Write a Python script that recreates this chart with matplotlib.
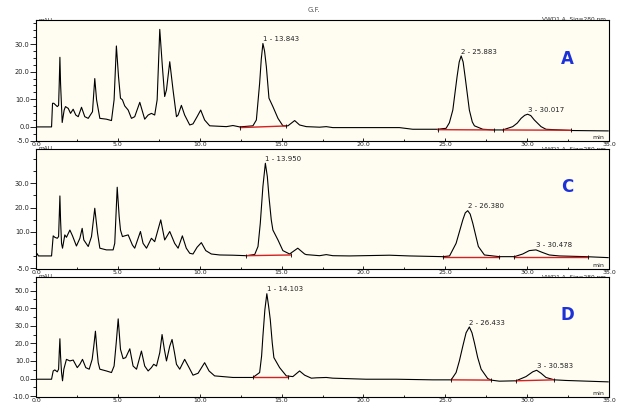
import matplotlib.pyplot as plt
from matplotlib.ticker import MultipleLocator

# chromatogram traces (time in min, signal in mAU)
a_time = [0.0, 0.95, 1.01, 1.09, 1.30, 1.38, 1.42, 1.46, 1.50, 1.60, 1.72, 1.80, 1.97, 2.11, 2.27,
          2.43, 2.58, 2.78, 2.98, 3.19, 3.45, 3.59, 3.70, 3.90, 4.30, 4.61, 4.77, 4.91, 5.04, 5.16,
          5.28, 5.42, 5.63, 5.83, 6.03, 6.34, 6.64, 6.85, 7.05, 7.25, 7.40, 7.56, 7.72, 7.86, 7.97,
          8.17, 8.37, 8.58, 8.68, 8.88, 9.08, 9.39, 9.59, 9.84, 10.06, 10.30, 10.61, 11.63, 12.03,
          12.44, 13.25, 13.46, 13.66, 13.76, 13.86, 13.96, 14.07, 14.23, 14.47, 14.78, 15.08, 15.39,
          15.80, 16.10, 16.51, 17.32, 17.73, 18.13, 20.17, 22.20, 23.01, 24.54, 25.05, 25.25, 25.46,
          25.72, 25.85, 25.97, 26.09, 26.21, 26.47, 26.65, 26.78, 27.29, 28.00, 28.51, 29.12, 29.40,
          29.63, 29.85, 30.03, 30.22, 30.44, 30.85, 31.15, 32.68, 34.95]
a_signal = [0.0, 0.0, 8.55, 8.55, 7.35, 7.8, 15.8, 25.2, 15.8, 1.6, 6.1, 7.35, 6.7, 4.9, 6.4,
            4.3, 3.7, 7.1, 3.7, 3.1, 5.5, 17.5, 9.8, 3.1, 2.8, 2.3, 9.8, 29.3, 18.2, 10.4,
            9.8, 7.6, 6.1, 3.1, 3.7, 8.9, 2.8, 4.3, 4.9, 4.3, 9.8, 35.3, 21.8, 11.0, 13.4,
            23.6, 13.4, 3.7, 4.3, 7.8, 4.3, 0.7, 1.1, 3.7, 6.1, 2.5, 0.4, 0.1, 0.5,
            0.0, 0.4, 2.5, 15.8, 24.5, 30.2, 27.5, 21.8, 10.4, 7.35, 3.1, 0.4, 0.4,
            2.3, 0.7, 0.1, -0.1, 0.1, -0.25, -0.25, -0.25, -0.85, -0.85, -0.5, 1.5, 6.1,
            18.2, 23.5, 25.7, 23.5, 18.2, 6.1, 1.8, 0.4, -0.85, -1.1, -1.1, 0.1, 1.4,
            3.1, 4.2, 4.6, 4.1, 2.5, 0.1, -0.85, -1.3, -1.45]

c_time = [0.0, 0.06, 0.15, 0.95, 1.05, 1.15, 1.30, 1.38, 1.42, 1.46, 1.50, 1.56, 1.62, 1.76, 1.86,
          2.07, 2.23, 2.47, 2.68, 2.82, 2.92, 3.19, 3.39, 3.59, 3.76, 3.90, 4.30, 4.71, 4.81, 4.96,
          5.08, 5.16, 5.28, 5.42, 5.63, 5.89, 6.03, 6.38, 6.54, 6.75, 7.05, 7.25, 7.62, 7.86, 8.17,
          8.47, 8.68, 8.94, 9.18, 9.39, 9.59, 9.84, 10.10, 10.37, 10.71, 11.22, 12.03, 12.85, 13.36,
          13.56, 13.70, 13.86, 14.01, 14.13, 14.23, 14.37, 14.47, 14.78, 15.08, 15.49, 15.99, 16.41,
          16.51, 17.32, 17.73, 18.13, 19.15, 21.59, 22.81, 24.85, 25.26, 25.66, 26.07, 26.22, 26.37,
          26.52, 26.68, 27.02, 27.39, 28.30, 29.22, 29.73, 30.13, 30.54, 30.95, 31.35, 31.96, 33.59,
          34.95]
c_signal = [-0.3, 1.0, 0.0, 0.0, 8.3, 7.7, 7.3, 8.0, 16.3, 24.8, 14.9, 5.2, 3.2, 8.7, 7.7,
            10.7, 8.3, 4.1, 7.3, 11.4, 6.6, 3.9, 8.0, 19.7, 9.4, 3.2, 2.5, 2.5, 5.2, 28.4,
            16.3, 10.7, 8.0, 8.3, 8.7, 4.5, 3.2, 10.1, 5.2, 3.2, 7.3, 5.9, 14.9, 6.6, 10.1,
            5.2, 3.2, 8.3, 3.2, 1.1, 0.8, 3.6, 5.5, 2.2, 0.8, 0.4, 0.3, 0.1, 0.6,
            3.9, 13.5, 28.7, 38.3, 32.8, 24.5, 14.9, 10.7, 6.6, 2.2, 0.8, 3.2, 0.8,
            0.55, 0.1, 0.55, 0.1, 0.0, 0.3, 0.0, -0.3, 0.0, 5.2, 14.9, 17.8, 18.7,
            17.3, 13.5, 3.9, 0.4, -0.3, -0.3, 0.8, 2.2, 2.5, 1.4, 0.4, 0.0, -0.3,
            -0.7]

d_time = [0.0, 0.95, 1.05, 1.15, 1.30, 1.38, 1.42, 1.46, 1.50, 1.56, 1.62, 1.70, 1.86, 2.07, 2.27,
          2.52, 2.68, 2.84, 3.04, 3.25, 3.43, 3.53, 3.63, 3.72, 3.80, 3.90, 4.30, 4.61, 4.77, 4.90,
          5.02, 5.10, 5.16, 5.32, 5.48, 5.73, 5.93, 6.14, 6.44, 6.64, 6.85, 7.05, 7.19, 7.36, 7.56,
          7.70, 7.84, 7.97, 8.17, 8.31, 8.46, 8.58, 8.78, 9.08, 9.35, 9.59, 9.90, 10.30, 10.57,
          10.91, 12.03, 13.25, 13.66, 13.78, 13.86, 13.98, 14.10, 14.21, 14.31, 14.43, 14.53, 14.88,
          15.29, 15.69, 16.10, 16.41, 16.82, 17.12, 17.73, 18.13, 20.17, 22.00, 24.24, 25.36, 25.66,
          25.86, 26.07, 26.27, 26.47, 26.63, 26.78, 26.98, 27.19, 27.59, 27.80, 28.30, 29.32, 29.93,
          30.34, 30.58, 30.85, 31.15, 31.66, 32.37, 34.95]
d_signal = [-0.4, -0.4, 4.3, 4.9, 3.8, 5.3, 14.7, 22.6, 12.8, 3.4, -1.3, 5.3, 10.9, 10.0, 10.5,
            6.2, 8.1, 10.9, 6.2, 5.3, 10.9, 18.4, 26.9, 16.6, 9.0, 5.3, 4.3, 3.4, 7.1, 20.3,
            33.9, 24.1, 16.6, 11.3, 11.9, 16.9, 7.1, 5.3, 15.6, 7.1, 4.3, 6.2, 8.1, 7.1, 14.7,
            25.0, 16.6, 10.0, 18.4, 22.2, 14.7, 8.1, 5.3, 10.9, 6.2, 1.9, 3.0, 9.0, 4.3,
            1.5, 0.6, 0.6, 3.4, 12.8, 24.1, 39.1, 48.2, 41.0, 33.5, 20.3, 11.9, 6.2,
            1.5, 1.1, 4.3, 1.9, 0.2, 0.4, 0.6, 0.2, -0.4, -0.4, -0.75, -0.75, 3.4,
            10.0, 18.4, 26.0, 29.3, 26.0, 20.3, 11.9, 5.3, 0.0, -0.9, -1.5, -1.3, 1.1,
            3.8, 4.7, 3.0, 0.6, -0.75, -1.1, -1.9]

# integrated peaks: apex time, apex height, label
a_peaks = [(13.86, 30.2, "1 - 13.843"), (25.97, 25.7, "2 - 25.883"), (30.03, 4.6, "3 - 30.017")]
c_peaks = [(14.01, 38.3, "1 - 13.950"), (26.37, 18.7, "2 - 26.380"), (30.54, 2.5, "3 - 30.478")]
d_peaks = [(14.10, 48.2, "1 - 14.103"), (26.47, 29.3, "2 - 26.433"), (30.58, 4.7, "3 - 30.583")]

# red integration baselines: t0, v0, t1, v1
a_base = [(12.48, -0.25, 15.29, 0.35), (24.54, -1.0, 28.00, -1.1), (28.51, -1.1, 32.68, -1.2)]
c_base = [(12.85, 0.1, 15.55, 0.4), (24.85, -0.3, 28.30, -0.3), (29.22, -0.3, 33.70, -0.3)]
d_base = [(13.25, 0.6, 15.39, 0.6), (25.36, -0.75, 27.80, -0.9), (29.32, -1.3, 31.66, -0.75)]

y_ticks_a = [-5, 0, 10, 20, 30]
y_ticks_c = [-5, 10, 20, 30]
y_ticks_d = [-10, 0, 10, 20, 30, 40, 50]
x_ticks = [0, 5, 10, 15, 20, 25, 30, 35]

W, H = 626, 407
fig = plt.figure(figsize=(W / 100, H / 100), dpi=100)
fig.text(314 / W, 1 - 10 / H, "G.F.", ha="center", va="center", fontsize=5, color="#555555")

panels = [
    ("A", a_time, a_signal, a_peaks, a_base, y_ticks_a, (-5.1, 38.7), 2.5, 20, 141),
    ("C", c_time, c_signal, c_peaks, c_base, y_ticks_c, (-5.4, 44.2), 5, 149, 269),
    ("D", d_time, d_signal, d_peaks, d_base, y_ticks_d, (-10.5, 57.7), 5, 277, 397),
]

for name, t, v, peaks, base, yt, ylim, ymin, top, bot in panels:
    ax = fig.add_axes([36 / W, 1 - bot / H, (609 - 36) / W, (bot - top) / H])
    ax.set_facecolor("#fffdf2")
    ax.plot(t, v, color="black", linewidth=0.8)
    for t0, v0, t1, v1 in base:
        ax.plot([t0, t1], [v0, v1], color="#d42020", linewidth=1.0)
        ax.plot([t0, t1], [v0, v1], linestyle="none", marker="|", markersize=2.5,
                color="black", markeredgewidth=0.6)
    for pt, pv, lab in peaks:
        ax.annotate(lab, (pt, pv), xytext=(0, 1.0), textcoords="offset points",
                    ha="left", va="bottom", fontsize=5, color="#222222")
    ax.set_xlim(0, 35)
    ax.set_ylim(*ylim)
    ax.set_xticks(x_ticks)
    ax.set_xticklabels(["%.1f" % x for x in x_ticks])
    ax.xaxis.set_minor_locator(MultipleLocator(2.5))
    ax.set_yticks(yt)
    ax.set_yticklabels(["%.1f" % y for y in yt])
    ax.yaxis.set_minor_locator(MultipleLocator(ymin))
    ax.tick_params(axis="y", which="major", labelsize=4.8, length=4, width=0.7,
                   direction="out", pad=0.5, colors="#222222")
    ax.tick_params(axis="y", which="minor", length=2.5, width=0.6, direction="out")
    ax.tick_params(axis="x", which="major", labelsize=4.5, length=2.5, width=0.7,
                   direction="in", pad=0.8, colors="#222222")
    ax.tick_params(axis="x", which="minor", length=1.5, width=0.6, direction="in")
    for s in ax.spines.values():
        s.set_linewidth(0.8)
    ax.text(0.928, 0.68, name, transform=ax.transAxes, ha="center", va="center",
            fontsize=12, fontweight="bold", color="#1c32d8")
    ax.text(0.981, 0.012, "min", transform=ax.transAxes, ha="center", va="bottom",
            fontsize=4.5, color="#222222")
    # detector and unit headers, half hidden by the plot area
    fig.text(0.995, 1.0, "VWD1 A, Sig=280 nm", transform=ax.transAxes, ha="right",
             va="center", fontsize=4.2, color="#333333", zorder=-1)
    fig.text(0.005, 1.0, "mAU", transform=ax.transAxes, ha="left",
             va="center", fontsize=4.2, color="#333333", zorder=-1)

fig.savefig("out.png", dpi=100)
